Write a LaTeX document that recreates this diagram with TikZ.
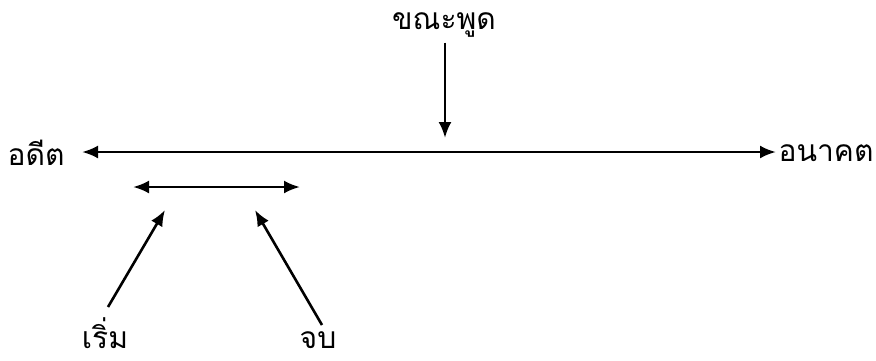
\documentclass[tikz,border=0pt]{standalone}
\usepackage{fontspec}
\newfontfamily\thaifont[Script=Thai]{Loma}
\usetikzlibrary{arrows.meta,positioning}

\begin{document}
\begin{tikzpicture}[x=1pt, y=-1pt, line width=2.6pt, >={Latex[length=16pt,width=13pt]}]
  \tikzset{word/.style={inner sep=0pt, font=\thaifont\fontsize{30}{36}\selectfont}}
  \useasboundingbox (0,0) rectangle (876,360);
  \node[word] (past) at (36,153) {อดีต};
  \node[word] (future) at (826,153) {อนาคต};
  \node[word] (speak) at (444,25) {ขณะพูด};
  \node[word] (start) at (105,333) {เริ่ม};
  \node[word] (stop) at (318,340) {จบ};
  \coordinate (pastend) at (82,152);
  \coordinate (futureend) at (776,152);
  \coordinate (now) at (445,138);
  \coordinate (spanleft) at (133,187);
  \coordinate (spanright) at (300,187);
  \coordinate (starttip) at (165,210);
  \coordinate (stoptip) at (255,210);
  \draw[<->] (pastend) -- (futureend);
  \draw[<->] (spanleft) -- (spanright);
  \draw[->] (speak.south) ++(1,4) -- (now);
  \draw[->] (108,307) -- (starttip);
  \draw[->] (322,325) -- (stoptip);
\end{tikzpicture}
\end{document}
